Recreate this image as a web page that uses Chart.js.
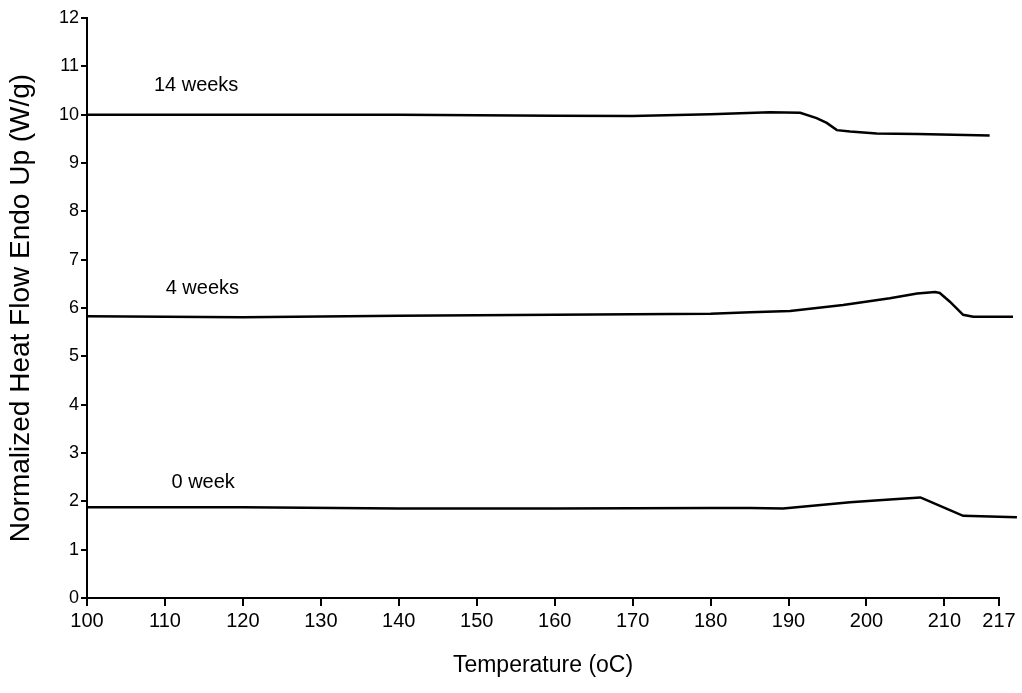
<!DOCTYPE html>
<html>
<head>
<meta charset="utf-8">
<script src="https://cdn.jsdelivr.net/npm/chart.js@4/dist/chart.umd.min.js"></script>
<style>
  html, body { margin: 0; padding: 0; background: #fff; }
  #wrap { width: 1022px; height: 693px; }
</style>
</head>
<body>
<div id="wrap"><canvas id="myChart"></canvas></div>
<script>
'use strict';

// tick labels
const xTicks = [100, 110, 120, 130, 140, 150, 160, 170, 180, 190, 200, 210, 217];

// 14 weeks
const temp14 = [100, 120, 140, 160, 170, 180, 187.6, 191.5, 193.6, 194.9, 196.2, 197.9, 201.3, 206.5, 215.8];
const flow14 = [10.0, 10.0, 10.0, 9.98, 9.97, 10.01, 10.05, 10.04, 9.93, 9.83, 9.68, 9.65, 9.61, 9.60, 9.57];

// 4 weeks
const temp4 = [100, 120, 140, 160, 180, 185.1, 190.2, 197.0, 203.0, 206.5, 208.8, 209.4, 210.7, 212.4, 213.7, 218.8];
const flow4 = [5.83, 5.81, 5.84, 5.86, 5.88, 5.91, 5.94, 6.06, 6.20, 6.30, 6.33, 6.31, 6.13, 5.86, 5.82, 5.82];

// 0 week
const temp0 = [100, 120, 140, 160, 180, 185.1, 189.3, 197.9, 203.0, 206.9, 207.2, 210.7, 212.4, 219.3];
const flow0 = [1.88, 1.88, 1.85, 1.85, 1.86, 1.86, 1.85, 1.98, 2.04, 2.08, 2.06, 1.82, 1.70, 1.67];

// curve labels: text, x (oC), y (W/g)
const curveLabels = [
  ['14 weeks', 114, 10.61],
  ['4 weeks', 114.8, 6.41],
  ['0 week', 114.9, 2.4]
];

const FONT = "'Liberation Sans', Arial, sans-serif";

function toPoints(xs, ys) {
  return xs.map((x, i) => ({ x: x, y: ys[i] }));
}

function lineSet(label, xs, ys) {
  return {
    label: label,
    data: toPoints(xs, ys),
    borderColor: '#000',
    borderWidth: 2.5,
    pointRadius: 0,
    tension: 0,
    fill: false,
    clip: false
  };
}

const labelPlugin = {
  id: 'curveLabels',
  afterDatasetsDraw(chart) {
    const c = chart.ctx;
    const sx = chart.scales.x, sy = chart.scales.y;
    c.save();
    c.fillStyle = '#000';
    c.font = '20px ' + FONT;
    c.textAlign = 'center';
    c.textBaseline = 'middle';
    curveLabels.forEach(l => {
      c.fillText(l[0], sx.getPixelForValue(l[1]), sy.getPixelForValue(l[2]));
    });
    c.restore();
  }
};

const ctx = document.getElementById('myChart').getContext('2d');

new Chart(ctx, {
  type: 'line',
  data: {
    datasets: [
      lineSet('14 weeks', temp14, flow14),
      lineSet('4 weeks', temp4, flow4),
      lineSet('0 week', temp0, flow0)
    ]
  },
  options: {
    responsive: true,
    maintainAspectRatio: false,
    animation: false,
    layout: { padding: { top: 18, right: 23, left: 0, bottom: 0 } },
    plugins: {
      legend: { display: false },
      tooltip: { enabled: false }
    },
    scales: {
      x: {
        type: 'linear',
        min: 100,
        max: 217,
        afterBuildTicks: s => { s.ticks = xTicks.map(v => ({ value: v })); },
        afterFit: s => { s.height = 95; },
        border: { color: '#000', width: 2 },
        grid: { drawOnChartArea: false, drawTicks: true, tickLength: 8, color: '#000', lineWidth: 2 },
        ticks: { color: '#000', font: { family: FONT, size: 20 }, padding: 3, maxRotation: 0, autoSkip: false },
        title: {
          display: true,
          text: 'Temperature (oC)',
          color: '#000',
          font: { family: FONT, size: 23 },
          padding: { top: 0, bottom: 14 }
        }
      },
      y: {
        min: 0,
        max: 12,
        afterFit: s => { s.width = 87; },
        border: { color: '#000', width: 2 },
        grid: { drawOnChartArea: false, drawTicks: true, tickLength: 6, color: '#000', lineWidth: 2 },
        ticks: { stepSize: 1, color: '#000', font: { family: FONT, size: 18 }, padding: 2 },
        title: {
          display: true,
          text: 'Normalized Heat Flow Endo Up (W/g)',
          color: '#000',
          font: { family: FONT, size: 28 },
          padding: { top: 4, bottom: 4 }
        }
      }
    }
  },
  plugins: [labelPlugin]
});
</script>
</body>
</html>
